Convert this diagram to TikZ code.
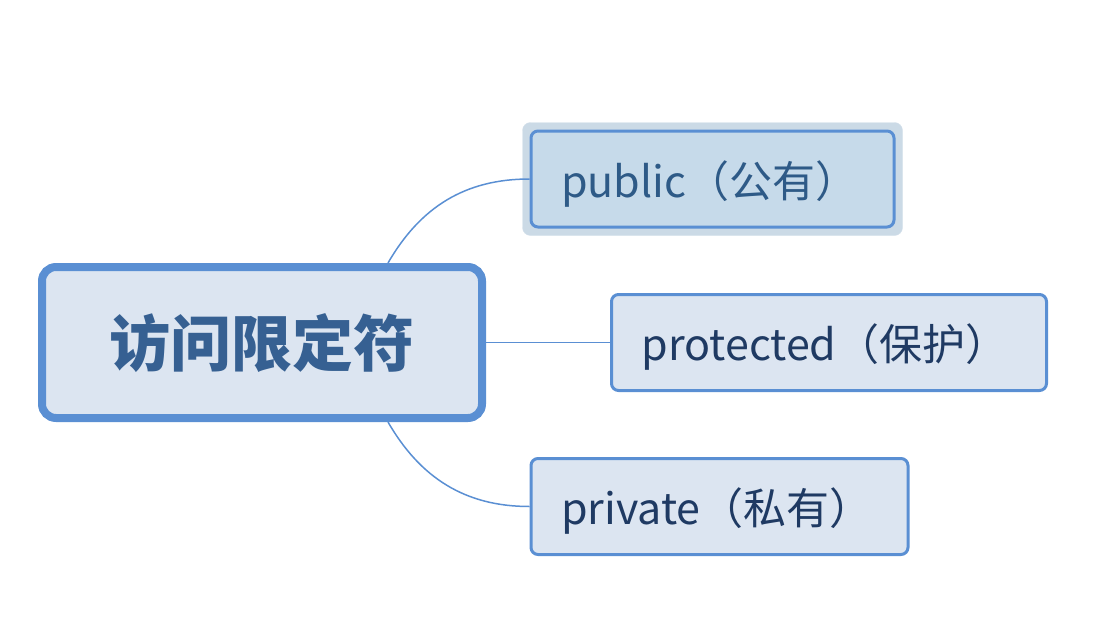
\documentclass[tikz,border=0pt]{standalone}
\usepackage{fontspec}
\usepackage{tikz}
\usetikzlibrary{positioning,fit,backgrounds}
\newfontfamily\cjk{Noto Sans CJK SC}
\definecolor{Line}{HTML}{5A8FD3}
\definecolor{Panel}{HTML}{DCE5F1}
\definecolor{Pick}{HTML}{C6DAEA}
\definecolor{Halo}{HTML}{CBDAE6}
\definecolor{Title}{HTML}{366092}
\definecolor{Ink}{HTML}{1F3A63}
\definecolor{PickInk}{HTML}{2E5A87}

\begin{document}
\begin{tikzpicture}[x=1pt,y=-1pt,
 node distance=124pt,
 root/.style={draw=Line,line width=8pt,rounded corners=14pt,fill=Panel,minimum width=440pt,minimum height=151pt,text height=48pt,text depth=0pt,font=\cjk\bfseries\fontsize{61}{63}\selectfont,text=Title},
 leaf/.style={draw=Line,line width=3pt,rounded corners=7pt,fill=Panel,minimum height=96pt,inner xsep=30pt,align=left,text height=40pt,text depth=4pt,font=\cjk\fontsize{43}{45}\selectfont,text=Ink,anchor=west},
 c/.style={draw=Line,line width=1.5pt}
]
\useasboundingbox (0,0) rectangle (1120,634);
\node[root] (root) at (262,342.5) {访问限定符};
\node[leaf,fill=Pick,text=PickInk,text width=303pt] (pub) at (529.5,179) {public（公有）};
\node[leaf,text width=375pt,right=of root] (prot) {protected（保护）};
\node[leaf,text width=317pt] (priv) at (529.5,506.5) {private（私有）};
\begin{scope}[on background layer]
\node[fit=(pub),inner sep=7pt,fill=Halo,draw=Halo!80!white,rounded corners=8pt] (halo) {};
\end{scope}
\draw[c] (root.north) ++(126,0) coordinate (r1) to[out=60,in=180] (pub.west);
\draw[c] (root.east)--(prot.west);
\draw[c] (root.south) ++(126,0) coordinate (r2) to[out=-60,in=180] (priv.west);
\end{tikzpicture}
\end{document}
